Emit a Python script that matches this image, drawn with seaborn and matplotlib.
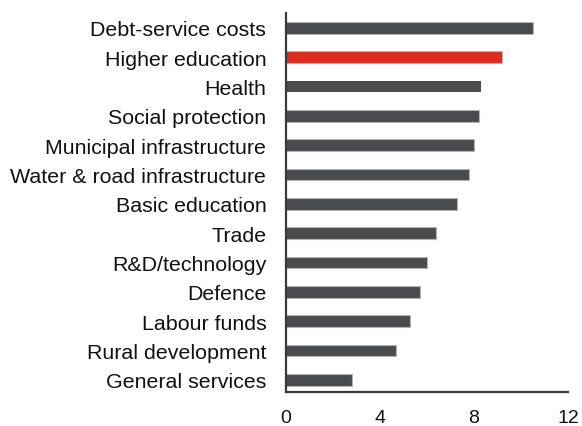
import matplotlib
matplotlib.use("Agg")
import matplotlib.pyplot as plt
import seaborn as sns
import pandas as pd

categories = [
    "Debt-service costs", "Higher education", "Health", "Social protection",
    "Municipal infrastructure", "Water & road infrastructure", "Basic education",
    "Trade", "R&D/technology", "Defence", "Labour funds", "Rural development",
    "General services",
]
values = [10.5, 9.2, 8.3, 8.2, 8.0, 7.8, 7.3, 6.4, 6.0, 5.7, 5.3, 4.7, 2.8]
highlight = "Higher education"
x_ticks = [0, 4, 8, 12]

sns.set_theme(style="white")
plt.rcParams["font.family"] = ["Liberation Sans", "DejaVu Sans"]

df = pd.DataFrame({"category": categories, "value": values})
df["group"] = ["hl" if c == highlight else "base" for c in categories]

fig = plt.figure(figsize=(5.82, 4.27), dpi=100)
ax = fig.add_axes([0.491, 0.0796, 0.485, 0.888])

sns.barplot(data=df, x="value", y="category", hue="group",
            palette={"base": "#4a4b4d", "hl": "#dc2b1e"},
            order=categories, dodge=False, legend=False, width=0.4,
            ax=ax, saturation=1)

for patch, grp in zip(ax.patches, df["group"]):
    if grp == "base":
        patch.set_edgecolor("#b4b4b4")
        patch.set_linewidth(0.8)
    else:
        patch.set_linewidth(0)

ax.set_xlim(0, 12)
ax.set_ylim(12.41, -0.51)
ax.set_xticks(x_ticks)
ax.set_xticklabels([str(t) for t in x_ticks])
ax.set_xlabel("")
ax.set_ylabel("")

for side in ("top", "right"):
    ax.spines[side].set_visible(False)
for side in ("left", "bottom"):
    ax.spines[side].set_color("#3a3a3a")
    ax.spines[side].set_linewidth(1.6)

ax.tick_params(axis="x", length=0, pad=12, labelsize=14, colors="#111111")
ax.tick_params(axis="y", length=0, pad=14, labelsize=15.4, colors="#111111")
ax.grid(False)

fig.savefig("out.png", dpi=100, facecolor="white")
